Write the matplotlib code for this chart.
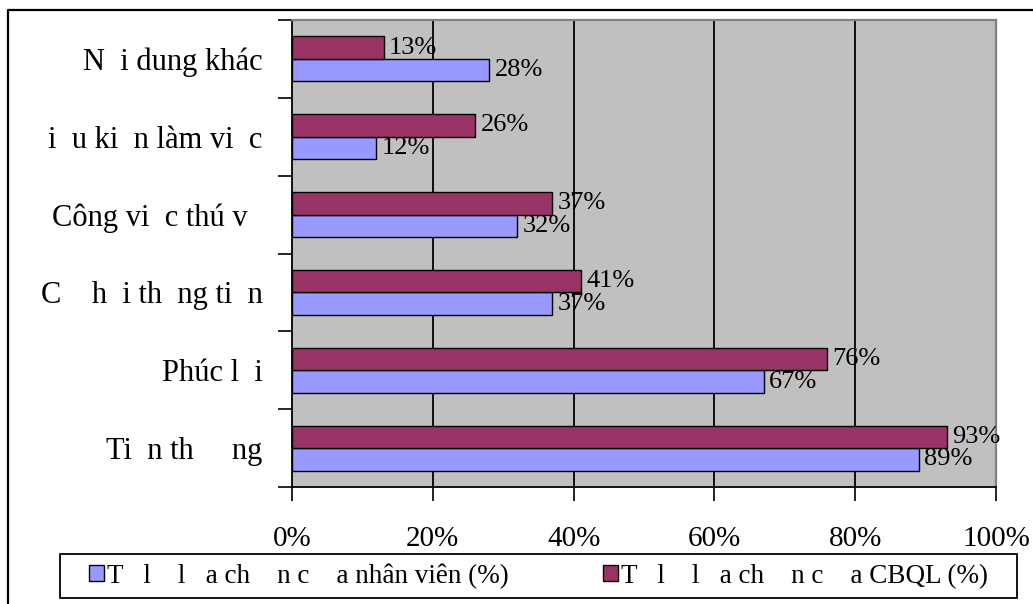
import matplotlib
matplotlib.use("Agg")
import matplotlib.pyplot as plt
from matplotlib.patches import Rectangle, Patch
from matplotlib.lines import Line2D
import numpy as np

plt.rcParams['font.family'] = ['Liberation Serif', 'DejaVu Serif']

# Categories listed bottom to top
categories = ["Ti  n th     ng", "Phúc l  i", "C    h  i th  ng ti  n",
              "Công vi  c thú v  ", "i  u ki  n làm vi  c", "N  i dung khác"]
staff_pct = [89, 67, 37, 32, 12, 28]
manager_pct = [93, 76, 41, 37, 26, 13]
staff_label = "T   l    l   a ch    n c    a nhân viên (%)"
manager_label = "T   l    l   a ch    n c    a CBQL (%)"
xticks = [0, 20, 40, 60, 80, 100]
xtick_labels = ["0%", "20%", "40%", "60%", "80%", "100%"]

W, H = 1033, 604
fig = plt.figure(figsize=(W / 100, H / 100), dpi=100)
fig.patch.set_facecolor("white")

# plot area in pixel units
left, right, top, bottom = 292, 996, 20, 487
ax = fig.add_axes([left / W, 1 - bottom / H, (right - left) / W, (bottom - top) / H])
ax.set_facecolor("#C0C0C0")

blue = "#9999FF"
purple = "#993366"
bar_h = 0.29
y = np.arange(len(categories))

ax.set_xlim(0, 100)
ax.set_ylim(-0.5, len(categories) - 0.5)

for xv in xticks[1:-1]:
    ax.axvline(xv, color="black", lw=1.3, zorder=1)

ax.barh(y - bar_h / 2, staff_pct, height=bar_h, color=blue, edgecolor="black",
        lw=1.0, zorder=3)
ax.barh(y + bar_h / 2, manager_pct, height=bar_h, color=purple, edgecolor="black",
        lw=1.0, zorder=3)

for yi, v in zip(y, staff_pct):
    ax.text(v + 0.8, yi - bar_h / 2, f"{v}%", va="center", ha="left",
            fontsize=19, zorder=4)
for yi, v in zip(y, manager_pct):
    ax.text(v + 0.8, yi + bar_h / 2, f"{v}%", va="center", ha="left",
            fontsize=19, zorder=4)

# axes and ticks
ax.set_xticks(xticks)
ax.set_xticklabels(xtick_labels, fontsize=21)
ax.tick_params(axis="x", direction="out", length=10, width=1.2, pad=18, color="black")
ax.set_yticks(np.arange(-0.5, len(categories), 1.0))
ax.set_yticklabels([])
ax.set_yticks(y, minor=True)
ax.set_yticklabels(categories, minor=True, fontsize=22)
ax.tick_params(axis="y", which="major", direction="out", length=10, width=1.2)
ax.tick_params(axis="y", which="minor", length=0, pad=21)

for side in ("left", "bottom"):
    ax.spines[side].set_color("black")
    ax.spines[side].set_linewidth(1.3)
for side in ("top", "right"):
    ax.spines[side].set_color("#808080")
    ax.spines[side].set_linewidth(1.6)

# outer chart frame
fig.add_artist(Line2D([8 / W, 8 / W, 1.0], [0.0, 1 - 10 / H, 1 - 10 / H],
                      transform=fig.transFigure, color="black", lw=1.6))

# legend box
lx0, lx1, ly0, ly1 = 60, 1017, 554, 598
fig.add_artist(Rectangle((lx0 / W, 1 - ly1 / H), (lx1 - lx0) / W, (ly1 - ly0) / H,
                         transform=fig.transFigure, facecolor="white",
                         edgecolor="black", lw=1.3))
handles = [Patch(facecolor=blue, edgecolor="black", lw=1.0, label=staff_label),
           Patch(facecolor=purple, edgecolor="black", lw=1.0, label=manager_label)]
fig.legend(handles=handles, loc="center",
           bbox_to_anchor=((lx0 + lx1) / 2 / W, 1 - (ly0 + ly1) / 2 / H),
           ncol=2, frameon=False, fontsize=19.5, handlelength=0.55, handleheight=0.55,
           handletextpad=0.1, columnspacing=3.5, borderpad=0)

fig.savefig("out.png", dpi=100)
